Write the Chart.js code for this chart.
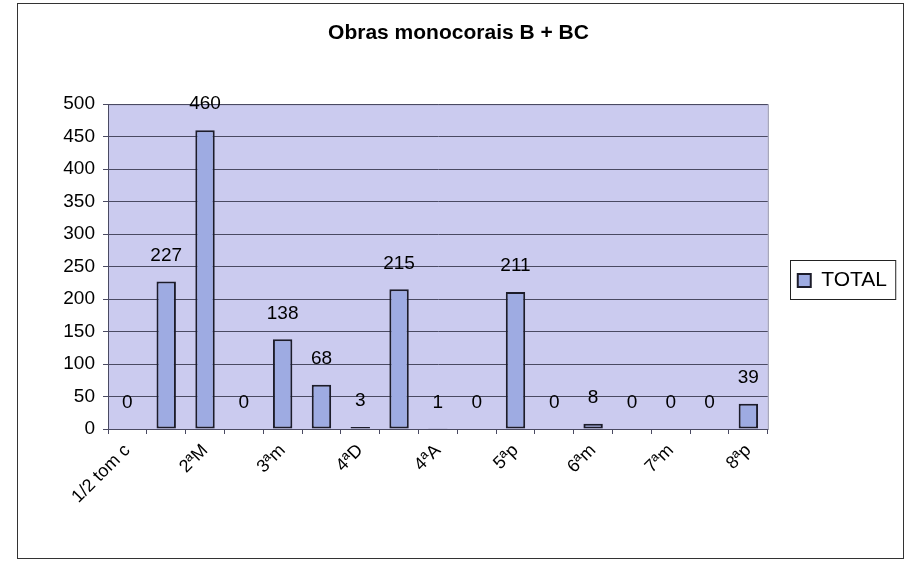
<!DOCTYPE html>
<html>
<head>
<meta charset="utf-8">
<title>Obras monocorais B + BC</title>
<script src="https://cdn.jsdelivr.net/npm/chart.js@4/dist/chart.umd.min.js"></script>
<style>
  html, body { margin: 0; padding: 0; background: #fff; }
  canvas { display: block; }
</style>
</head>
<body>
<canvas id="intervalChart" width="909" height="561"></canvas>
<script>
// intervalos (categorias) e totais de obras
var intervalos = ["1/2 tom c", "2ªm", "2ªM", "2ªA", "3ªm", "3ªM", "4ªD", "4ªp", "4ªA",
                  "5ªD", "5ªp", "5ªA", "6ªm", "6ªM", "7ªm", "7ªM", "8ªp"];
var totais = [0, 227, 460, 0, 138, 68, 3, 215, 1, 0, 211, 0, 8, 0, 0, 0, 39];
var yTicks = [0, 50, 100, 150, 200, 250, 300, 350, 400, 450, 500];

var FONT = 'Arial, "Liberation Sans", sans-serif';
var GRID = "#4a4a62";

// fundo da área do gráfico, moldura externa e caixa da legenda
var frames = {
    id: "frames",
    beforeDraw: function (chart) {
        var c = chart.ctx, a = chart.chartArea;
        c.save();
        c.fillStyle = "#cbcbef";
        c.fillRect(a.left, a.top, a.right - a.left, a.bottom - a.top);
        c.strokeStyle = "#8c8ca6";
        c.lineWidth = 1;
        c.strokeRect(a.left + 0.5, a.top + 0.5, a.right - a.left, a.bottom - a.top);
        c.strokeStyle = "#333";
        c.strokeRect(17.5, 3.5, 886, 555);
        c.restore();
    },
    afterDraw: function (chart) {
        var hb = chart.legend.legendHitBoxes[0];
        if (!hb) return;
        var c = chart.ctx;
        c.save();
        c.strokeStyle = "#222";
        c.lineWidth = 1;
        c.strokeRect(Math.round(hb.left) - 7.5, Math.round(hb.top) - 9.5, hb.width + 16, hb.height + 18);
        c.restore();
    }
};

// valores escritos acima de cada barra
var valueLabels = {
    id: "valueLabels",
    afterDatasetsDraw: function (chart) {
        var c = chart.ctx;
        var meta = chart.getDatasetMeta(0);
        c.save();
        c.font = "19px " + FONT;
        c.fillStyle = "#000";
        c.textAlign = "center";
        c.textBaseline = "middle";
        meta.data.forEach(function (bar, i) {
            c.fillText(String(totais[i]), bar.x, bar.y - 26);
        });
        c.restore();
    }
};

var ctx = document.getElementById("intervalChart");
var intervalChart = new Chart(ctx, {
    type: "bar",
    data: {
        labels: intervalos,
        datasets: [
            {
                label: "TOTAL",
                data: totais,
                backgroundColor: "#9eabe2",
                borderColor: "#1c1c2a",
                borderWidth: 2,
                borderSkipped: false,
                categoryPercentage: 1.0,
                barPercentage: 0.5
            }
        ]
    },
    options: {
        responsive: false,
        animation: false,
        layout: {
            padding: { top: 4, left: 20, right: 12, bottom: 4 }
        },
        plugins: {
            title: {
                display: true,
                text: "Obras monocorais B + BC",
                color: "#000",
                font: { family: FONT, size: 21, weight: "bold" },
                padding: { top: 17, bottom: 58 }
            },
            legend: {
                position: "right",
                labels: {
                    color: "#000",
                    font: { family: FONT, size: 21 },
                    boxWidth: 13,
                    boxHeight: 13,
                    padding: 30
                }
            },
            tooltip: { enabled: false }
        },
        scales: {
            x: {
                grid: {
                    display: true,
                    drawOnChartArea: false,
                    drawTicks: true,
                    tickLength: 5,
                    color: GRID
                },
                border: { display: true, color: GRID },
                ticks: {
                    autoSkip: false,
                    minRotation: 45,
                    maxRotation: 45,
                    color: "#000",
                    padding: 6,
                    font: { family: FONT, size: 18 },
                    callback: function (value, index) {
                        return index % 2 === 0 ? intervalos[index] : "";
                    }
                },
                afterFit: function (scale) { scale.height = 128; }
            },
            y: {
                min: yTicks[0],
                max: yTicks[yTicks.length - 1],
                grid: {
                    color: GRID,
                    drawTicks: true,
                    tickLength: 5
                },
                border: { display: true, color: GRID },
                ticks: {
                    stepSize: yTicks[1] - yTicks[0],
                    color: "#000",
                    padding: 8,
                    font: { family: FONT, size: 19 }
                },
                afterFit: function (scale) { scale.width = 88; }
            }
        }
    },
    plugins: [frames, valueLabels]
});
</script>
</body>
</html>
